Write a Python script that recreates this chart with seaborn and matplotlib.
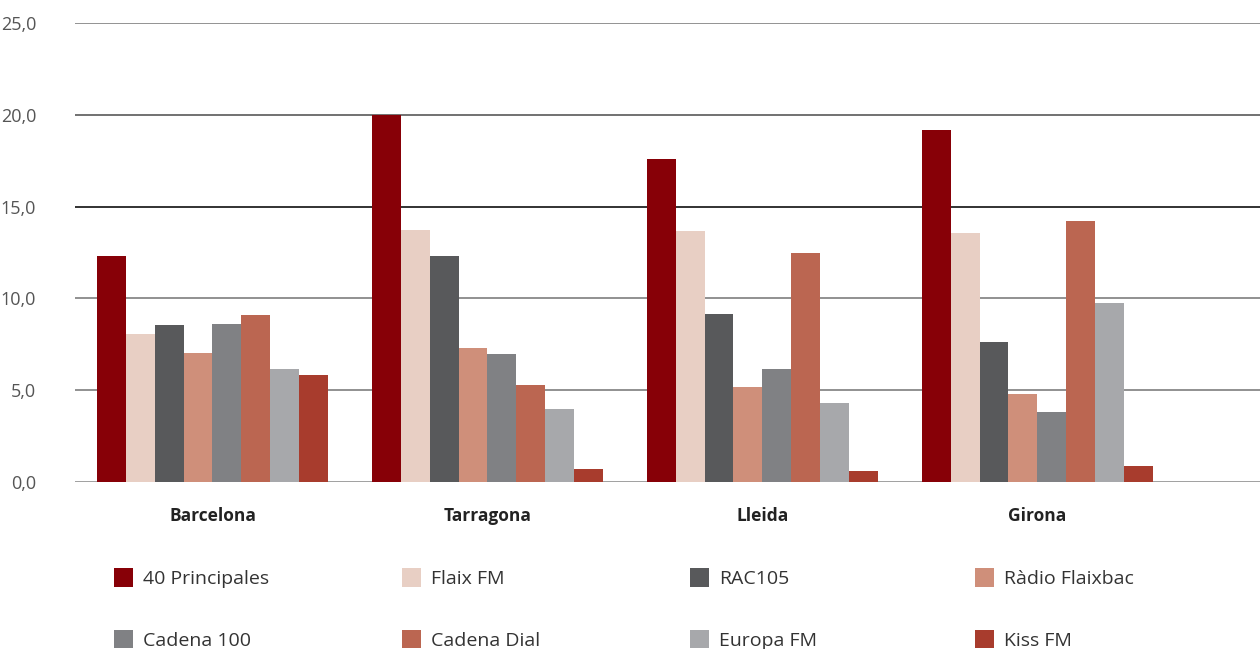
import matplotlib.pyplot as plt
import matplotlib.ticker as mticker
import pandas as pd
import seaborn as sns

cities = ["Barcelona", "Tarragona", "Lleida", "Girona"]
stations = ["40 Principales", "Flaix FM", "RAC105", "Ràdio Flaixbac",
            "Cadena 100", "Cadena Dial", "Europa FM", "Kiss FM"]
colors = ["#870007", "#E8CFC4", "#58595B", "#CF8F7A",
          "#808184", "#BB6651", "#A7A8AB", "#A83C2D"]

# audience share (%) per station, one list per city
barcelona = [12.3, 8.05, 8.55, 7.05, 8.6, 9.1, 6.15, 5.85]
tarragona = [20.0, 13.75, 12.3, 7.3, 6.95, 5.3, 3.95, 0.7]
lleida = [17.6, 13.65, 9.15, 5.2, 6.15, 12.5, 4.3, 0.6]
girona = [19.15, 13.55, 7.6, 4.8, 3.8, 14.2, 9.75, 0.85]

rows = []
for city, vals in zip(cities, [barcelona, tarragona, lleida, girona]):
    for st, v in zip(stations, vals):
        rows.append({"city": city, "station": st, "value": v})
df = pd.DataFrame(rows)

sns.set_style("white")
plt.rcParams["font.family"] = ["Open Sans", "DejaVu Sans"]

fig = plt.figure(figsize=(12.6, 6.49), dpi=100)
ax = fig.add_axes([75 / 1260, (649 - 482) / 649, 1 - 75 / 1260, (482 - 23) / 649])

sns.barplot(data=df, x="city", y="value", hue="station", hue_order=stations,
            palette=colors, saturation=1, width=0.84, gap=0, linewidth=0,
            ax=ax, zorder=3)

ax.set_xlim(-0.5, 3.81)
ax.set_ylim(0, 25)
ax.set_yticks([0, 5, 10, 15, 20, 25])
ax.yaxis.set_major_formatter(mticker.FuncFormatter(lambda v, p: f"{v:.1f}".replace(".", ",")))
ax.set_xlabel("")
ax.set_ylabel("")
sns.despine(ax=ax, left=True, bottom=True)

ax.yaxis.grid(True, linewidth=1.3, color="#8a8a8a", zorder=0)
ax.set_axisbelow(True)
grid_colors = ["#999999", "#888888", "#888888", "#222222", "#666666", "#8a8a8a"]
for gl, c in zip(ax.get_ygridlines(), grid_colors):
    gl.set_color(c)

ax.tick_params(axis="y", length=0, pad=28, labelsize=13, labelcolor="#555555")
ax.tick_params(axis="x", length=0, pad=18, labelsize=12.5, labelcolor="#222222")
for lbl in ax.get_xticklabels():
    lbl.set_fontweight("bold")

handles, labels = ax.get_legend_handles_labels()
ax.get_legend().remove()

col_x = [114, 402, 690, 975]
for j in range(4):
    fig.legend([handles[j], handles[j + 4]], [labels[j], labels[j + 4]],
               loc="upper left",
               bbox_to_anchor=(col_x[j] / 1260, (649 - 568) / 649),
               frameon=False, fontsize=14, labelcolor="#333333",
               handlelength=1.0, handleheight=1.1, handletextpad=0.5,
               labelspacing=2.15, borderpad=0, borderaxespad=0)

fig.savefig("out.png", dpi=100)
